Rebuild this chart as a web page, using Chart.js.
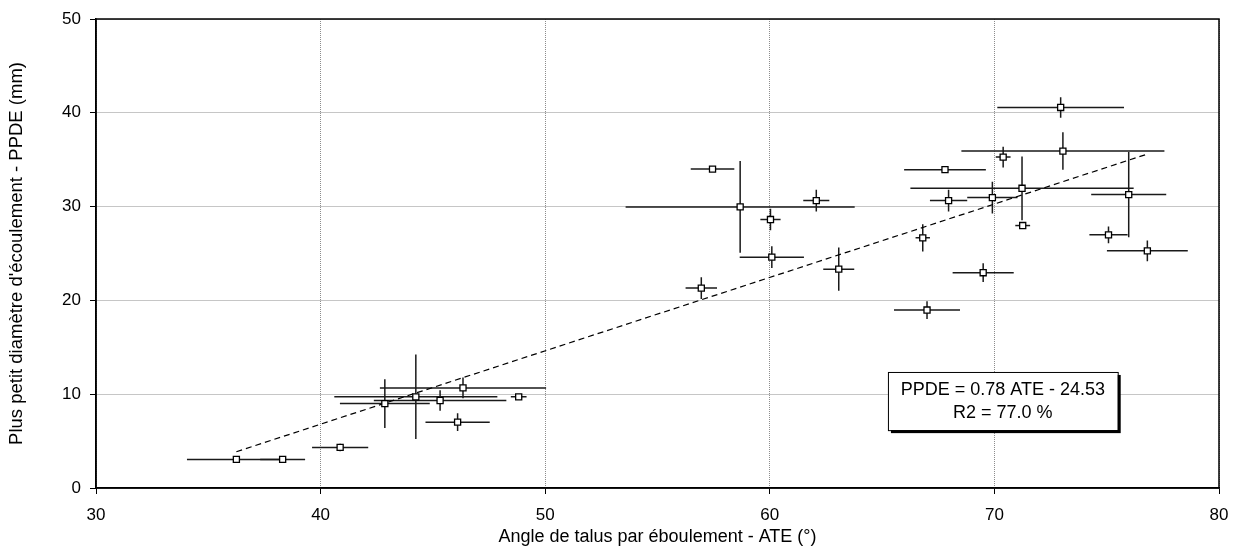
<!DOCTYPE html>
<html>
<head>
<meta charset="utf-8">
<script src="https://cdn.jsdelivr.net/npm/chart.js@4/dist/chart.umd.min.js"></script>
<style>
  html, body { margin: 0; padding: 0; background: #fff; }
  #wrap { width: 1236px; height: 553px; }
</style>
</head>
<body>
<div id="wrap"><canvas id="ppdeChart" width="1236" height="553"></canvas></div>
<script>
// values
const ateValues  = [36.25, 38.31, 40.87, 42.86, 44.24, 45.32, 46.34, 46.10, 48.82,
                    57.45, 58.68, 60.03, 62.07, 60.09, 56.95, 63.07,
                    72.95, 73.05, 70.39, 67.80, 71.23, 71.26, 69.91, 67.96, 75.98, 75.08, 76.81, 66.81, 69.50, 67.00];
const ppdeValues = [3.05, 3.05, 4.33, 9.00, 9.72, 9.33, 10.67, 7.02, 9.72,
                    34.0, 29.97, 28.62, 30.64, 24.61, 21.31, 23.33,
                    40.57, 35.92, 35.28, 33.94, 31.95, 27.98, 30.96, 30.64, 31.28, 26.99, 25.28, 26.67, 22.95, 18.97];
// half widths of the error bars
const ateErrors  = [2.2, 1.0, 1.25, 2.0, 3.63, 2.95, 3.7, 1.43, 0.35,
                    0.97, 5.1, 0.45, 0.58, 1.43, 0.7, 0.69,
                    2.82, 4.52, 0.33, 1.82, 4.97, 0.33, 1.12, 0.83, 1.67, 0.85, 1.8, 0.32, 1.36, 1.47];
const ppdeErrors = [0, 0, 0.4, 2.6, 4.5, 1.1, 1.1, 0.95, 0.3,
                    0, 4.9, 1.15, 1.15, 1.15, 1.15, 2.3,
                    1.1, 2.0, 1.1, 0, 3.4, 0, 1.7, 1.15, 4.55, 0.9, 1.1, 1.45, 1.0, 0.95];
// regression line end points
const trendAte  = [36.25, 76.81];
const trendPpde = [3.87, 35.6];

const xTicks = [30, 40, 50, 60, 70, 80];
const yTicks = [0, 10, 20, 30, 40, 50];
const equationLines = ['PPDE = 0.78 ATE - 24.53', 'R2 = 77.0 %'];

const FONT = "'Liberation Sans', Arial, sans-serif";

const points = ateValues.map((x, i) => ({ x, y: ppdeValues[i], xErr: ateErrors[i], yErr: ppdeErrors[i] }));
const trend = trendAte.map((x, i) => ({ x, y: trendPpde[i] }));

// error bars under the markers
const errorBars = {
  id: 'errorBars',
  beforeDatasetsDraw(chart) {
    const { ctx, chartArea, scales: { x, y } } = chart;
    ctx.save();
    ctx.beginPath();
    ctx.rect(chartArea.left, chartArea.top, chartArea.right - chartArea.left, chartArea.bottom - chartArea.top);
    ctx.clip();
    ctx.strokeStyle = '#1a1a1a';
    ctx.lineWidth = 1.5;
    points.forEach(p => {
      const cx = x.getPixelForValue(p.x);
      const cy = y.getPixelForValue(p.y);
      ctx.beginPath();
      if (p.xErr) {
        ctx.moveTo(x.getPixelForValue(p.x - p.xErr), cy);
        ctx.lineTo(x.getPixelForValue(p.x + p.xErr), cy);
      }
      if (p.yErr) {
        ctx.moveTo(cx, y.getPixelForValue(p.y - p.yErr));
        ctx.lineTo(cx, y.getPixelForValue(p.y + p.yErr));
      }
      ctx.stroke();
    });
    ctx.restore();
  }
};

// plot frame and the equation box
const frameAndNote = {
  id: 'frameAndNote',
  afterDraw(chart) {
    const { ctx, chartArea: a, scales: { x, y } } = chart;
    ctx.save();
    ctx.strokeStyle = '#000';
    ctx.lineWidth = 1.5;
    ctx.strokeRect(a.left, a.top, a.right - a.left, a.bottom - a.top);

    const bx1 = x.getPixelForValue(65.26), bx2 = x.getPixelForValue(75.49);
    const by1 = y.getPixelForValue(12.37), by2 = y.getPixelForValue(6.17);
    const w = bx2 - bx1, h = by2 - by1;
    ctx.fillStyle = '#000';
    ctx.fillRect(bx1 + 3, by1 + 3, w, h);
    ctx.fillStyle = '#fff';
    ctx.fillRect(bx1, by1, w, h);
    ctx.lineWidth = 1;
    ctx.strokeRect(bx1 + 0.5, by1 + 0.5, w, h);
    ctx.fillStyle = '#000';
    ctx.font = '18px ' + FONT;
    ctx.textAlign = 'center';
    ctx.textBaseline = 'middle';
    ctx.fillText(equationLines[0], bx1 + w / 2, by1 + 18.5);
    ctx.fillText(equationLines[1], bx1 + w / 2, by1 + 41.5);
    ctx.restore();
  }
};

new Chart(document.getElementById('ppdeChart'), {
  type: 'scatter',
  data: {
    datasets: [
      {
        label: 'PPDE',
        data: points,
        pointStyle: 'rect',
        pointRadius: 4.3,
        pointHoverRadius: 4.3,
        backgroundColor: '#fff',
        borderColor: '#000',
        borderWidth: 1.3,
        order: 1
      },
      {
        type: 'line',
        label: 'Tendance',
        data: trend,
        borderColor: '#000',
        borderWidth: 1.2,
        borderDash: [6, 4],
        pointRadius: 0,
        fill: false,
        order: 2
      }
    ]
  },
  options: {
    responsive: false,
    animation: false,
    layout: { padding: { top: 19, right: 17, left: 0, bottom: 0 } },
    plugins: { legend: { display: false }, tooltip: { enabled: false } },
    scales: {
      x: {
        type: 'linear',
        min: 30, max: 80,
        afterBuildTicks: s => { s.ticks = xTicks.map(v => ({ value: v })); },
        afterFit: s => { s.height = 65; s.paddingLeft = 0; s.paddingRight = 0; },
        grid: { color: '#8c8c8c', lineWidth: 1, tickColor: '#000', tickLength: 6, tickWidth: 1 },
        border: { color: '#000', width: 1.5, dash: [1, 1] },
        ticks: { color: '#000', font: { size: 17, family: FONT }, padding: 11, maxRotation: 0 },
        title: {
          display: true,
          text: 'Angle de talus par éboulement - ATE (°)',
          color: '#000',
          font: { size: 18, family: FONT },
          padding: { top: 0, bottom: 5 }
        }
      },
      y: {
        type: 'linear',
        min: 0, max: 50,
        afterBuildTicks: s => { s.ticks = yTicks.map(v => ({ value: v })); },
        afterFit: s => { s.width = 96; s.paddingTop = 0; s.paddingBottom = 0; },
        grid: { color: '#8c8c8c', lineWidth: 1, tickColor: '#000', tickLength: 6, tickWidth: 1 },
        border: { color: '#000', width: 1.5, dash: [1, 1] },
        ticks: { color: '#000', font: { size: 17, family: FONT }, padding: 9 },
        title: {
          display: true,
          text: "Plus petit diamètre d'écoulement - PPDE (mm)",
          color: '#000',
          font: { size: 18.5, family: FONT },
          padding: { top: 6, bottom: 0 }
        }
      }
    }
  },
  plugins: [errorBars, frameAndNote]
});
</script>
</body>
</html>
